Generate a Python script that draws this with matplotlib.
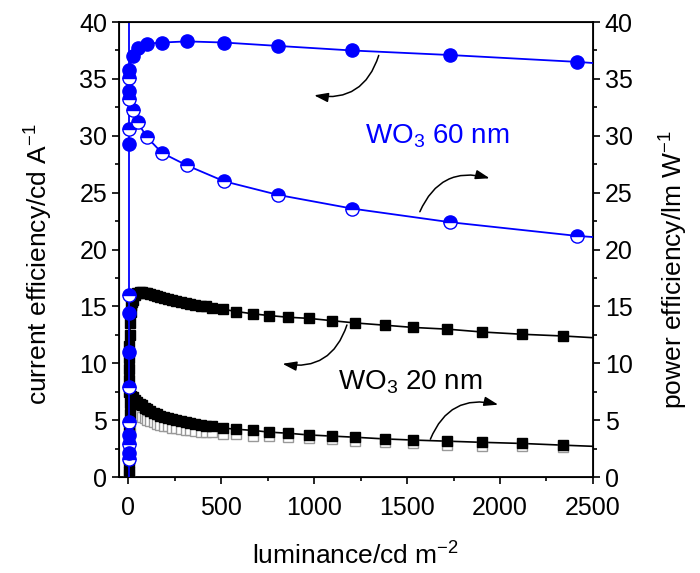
import matplotlib
matplotlib.use('Agg')
import matplotlib.pyplot as plt
from matplotlib.ticker import MultipleLocator

plt.rcParams['font.family'] = 'Liberation Sans'
plt.rcParams['mathtext.fontset'] = 'custom'
plt.rcParams['mathtext.rm'] = 'Liberation Sans'
plt.rcParams['mathtext.it'] = 'Liberation Sans:italic'

# WO3 60 nm, current efficiency (filled circles)
ce60_x = [3, 3, 4, 4, 3, 3, 4, 24, 50, 99, 181, 315, 516, 807, 1205, 1733, 2413]
ce60_y = [2.1, 3.7, 11.0, 14.4, 29.3, 33.9, 35.8, 37.0, 37.7, 38.1, 38.2, 38.3, 38.2, 37.9, 37.5, 37.1, 36.5]
# WO3 60 nm, power efficiency (half filled circles)
pe60_x = [3, 3, 3, 4, 4, 3, 3, 4, 24, 50, 99, 181, 315, 516, 807, 1205, 1733, 2413]
pe60_y = [1.6, 2.9, 4.8, 7.9, 16.0, 30.6, 33.2, 35.1, 32.3, 31.2, 29.9, 28.5, 27.4, 26.0, 24.8, 23.6, 22.4, 21.2]
ce60_end = 36.4
pe60_end = 21.1
vline60_x = 6

# WO3 20 nm
low20_x = [2, 3, 4, 5, 6, 8, 10, 13, 17, 22]
ce20_low = [7.5, 8.5, 9.5, 10.5, 11.5, 12.5, 13.5, 14.5, 15.1, 15.4]
pe20_low_x = [2, 3, 4, 5, 6, 8, 11, 15]
pe20_low = [0.5, 1.5, 2.5, 3.5, 4.5, 5.5, 6.5, 7.1]
open20_low_x = [3, 4, 5, 6, 7, 9, 12]
open20_low = [0.3, 1.2, 2.1, 3.0, 3.9, 4.8, 5.7]

lum20 = [28, 38, 49, 61, 74, 88, 103, 119, 136, 154, 173, 193, 214, 236, 259, 283,
         308, 334, 361, 389, 418, 448, 510, 582, 670, 756, 858, 970, 1094, 1218,
         1379, 1534, 1717, 1905, 2120, 2340]
ce20 = [15.6, 16.0, 16.15, 16.25, 16.25, 16.2, 16.15, 16.05, 16.0, 15.9, 15.8, 15.75,
        15.65, 15.55, 15.5, 15.4, 15.3, 15.2, 15.1, 15.05, 15.0, 14.9, 14.75, 14.55,
        14.35, 14.2, 14.05, 13.95, 13.75, 13.55, 13.35, 13.15, 13.0, 12.75, 12.55, 12.4]
pe20 = [7.0, 6.8, 6.6, 6.45, 6.3, 6.1, 5.95, 5.8, 5.65, 5.5, 5.4, 5.3, 5.2, 5.1, 5.0,
        4.9, 4.8, 4.72, 4.65, 4.58, 4.5, 4.45, 4.3, 4.2, 4.1, 3.95, 3.85, 3.7, 3.6,
        3.5, 3.35, 3.25, 3.15, 3.05, 2.95, 2.8]
open20 = [6.0, 5.8, 5.6, 5.45, 5.3, 5.15, 5.0, 4.9, 4.8, 4.7, 4.6, 4.5, 4.45, 4.35,
          4.3, 4.25, 4.15, 4.1, 4.05, 4.0, 3.95, 3.92, 3.8, 3.75, 3.65, 3.6, 3.5, 3.4,
          3.3, 3.2, 3.1, 2.95, 2.85, 2.75, 2.7, 2.65]
ce20_end = 12.25
pe20_end = 2.7

fig = plt.figure(figsize=(7, 5.73), dpi=100)
ax = fig.add_axes([0.170, 0.1675, 0.677, 0.794])

# black WO3 20 nm curves
ax.plot(low20_x + lum20 + [2500], ce20_low + ce20 + [ce20_end], color='black', lw=1.2, zorder=2)
ax.plot(pe20_low_x + lum20 + [2500], pe20_low + pe20 + [pe20_end], color='black', lw=1.2, zorder=2)
ax.plot(open20_low_x + lum20, open20_low + open20, ls='none', marker='s', ms=7,
        mfc='white', mec='#999999', mew=1, zorder=3)
ax.plot(pe20_low_x + lum20, pe20_low + pe20, ls='none', marker='s', ms=7,
        mfc='black', mec='black', zorder=4)
ax.plot(low20_x + lum20, ce20_low + ce20, ls='none', marker='s', ms=7,
        mfc='black', mec='black', zorder=4)

# blue WO3 60 nm curves
ax.plot([vline60_x, vline60_x], [0, 40], color='blue', lw=1.3, zorder=5)
ax.plot(ce60_x[6:] + [2500], ce60_y[6:] + [ce60_end], color='blue', lw=1.3, zorder=5)
ax.plot(pe60_x[7:] + [2500], pe60_y[7:] + [pe60_end], color='blue', lw=1.3, zorder=5)
ax.plot(pe60_x, pe60_y, ls='none', marker='o', ms=9.5, fillstyle='top',
        mfc='blue', mfcalt='white', mec='blue', mew=1, zorder=6)
ax.plot(ce60_x, ce60_y, ls='none', marker='o', ms=9.5, mfc='blue', mec='blue', zorder=6)

# curved arrows
arr = dict(arrowstyle='-|>,head_length=0.6,head_width=0.2', color='black', lw=1.1, mutation_scale=14)
ax.annotate('', xy=(985, 33.6), xytext=(1352, 37.3),
            arrowprops=dict(arr, connectionstyle='arc3,rad=-0.45'))
ax.annotate('', xy=(1959, 26.2), xytext=(1563, 23.1),
            arrowprops=dict(arr, connectionstyle='arc3,rad=-0.45'))
ax.annotate('', xy=(815, 10.0), xytext=(1181, 13.6),
            arrowprops=dict(arr, connectionstyle='arc3,rad=-0.45'))
ax.annotate('', xy=(2005, 6.3), xytext=(1620, 3.1),
            arrowprops=dict(arr, connectionstyle='arc3,rad=-0.45'))

ax.text(1276, 30.0, r'WO$_3$ 60 nm', color='blue', fontsize=20, va='center')
ax.text(1127, 8.3, r'WO$_3$ 20 nm', color='black', fontsize=20, va='center')

ax.set_xlim(-50, 2500)
ax.set_ylim(0, 40)
ax.xaxis.set_major_locator(MultipleLocator(500))
ax.xaxis.set_minor_locator(MultipleLocator(250))
ax.yaxis.set_major_locator(MultipleLocator(5))
ax.yaxis.set_minor_locator(MultipleLocator(2.5))
ax.tick_params(which='both', direction='out', width=1.2, labelsize=18, top=False)
ax.tick_params(which='major', length=5)
ax.tick_params(which='minor', length=3)
ax.tick_params(axis='x', pad=9)
for s in ax.spines.values():
    s.set_linewidth(1.3)
ax.set_xlabel(r'luminance/cd m$^{-2}$', fontsize=19, labelpad=16)
ax.set_ylabel(r'current efficiency/cd A$^{-1}$', fontsize=19)
ax.yaxis.set_label_coords(-0.135, 0.468)

ax2 = ax.twinx()
ax2.set_ylim(0, 40)
ax2.yaxis.set_major_locator(MultipleLocator(5))
ax2.yaxis.set_minor_locator(MultipleLocator(2.5))
ax2.tick_params(which='both', direction='out', width=1.2, labelsize=18)
ax2.tick_params(which='major', length=5)
ax2.tick_params(which='minor', length=3)
ax2.set_ylabel(r'power efficiency/lm W$^{-1}$', fontsize=19)
ax2.yaxis.set_label_coords(1.137, 0.455)

fig.savefig('out.png', dpi=100)
